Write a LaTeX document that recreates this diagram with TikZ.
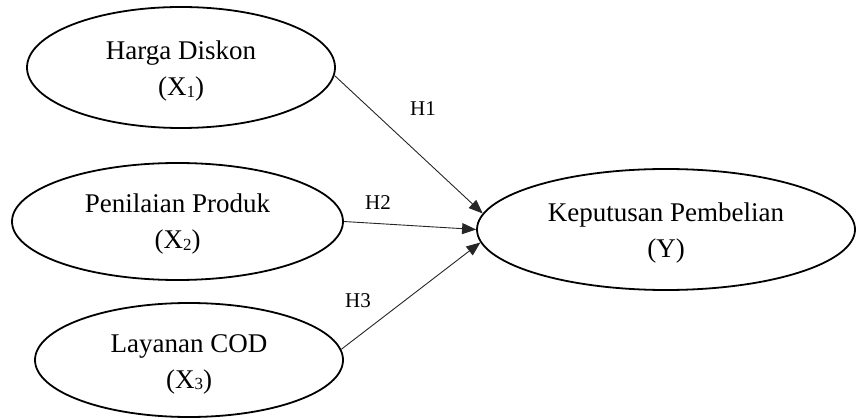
\documentclass[tikz,border=0pt]{standalone}
\usepackage{fontspec}
\setmainfont{Liberation Serif}
\usetikzlibrary{shapes.geometric,arrows.meta}
\newcommand{\varsub}[1]{\raisebox{-0.15ex}{\fontsize{17}{17}\selectfont #1}}
\tikzset{
  var/.style={ellipse, draw=black, line width=1.8pt, inner sep=0pt},
  varlabel/.style={align=center, inner sep=0pt, font=\fontsize{27}{36}\selectfont},
  path/.style={draw=black!85, line width=0.9pt,
    -{Triangle[length=14pt,width=11pt]}},
  hyp/.style={font=\fontsize{21}{24}\selectfont}
}
\begin{document}
\begin{tikzpicture}[x=1pt,y=-1pt]
  \useasboundingbox (0,0) rectangle (858,419);
  % exogenous variables
  \node[var, minimum width=308pt, minimum height=121pt] (hd) at (181,67.5) {};
  \node[var, minimum width=331pt, minimum height=117pt] (pp) at (177.5,221.5) {};
  \node[var, minimum width=308pt, minimum height=114pt] (lc) at (189,360) {};
  % endogenous variable
  \node[var, minimum width=378pt, minimum height=121pt] (kp) at (666,229.5) {};
  % variable names
  \node[varlabel] (hdt) at ([yshift=-4pt]hd.center) {Harga Diskon\\(X\varsub{1})};
  \node[varlabel] (ppt) at ([yshift=-3pt]pp.center) {Penilaian Produk\\(X\varsub{2})};
  \node[varlabel] (lct) at ([yshift=-4pt]lc.center) {Layanan COD\\(X\varsub{3})};
  \node[varlabel] (kpt) at ([yshift=-4pt]kp.center) {Keputusan Pembelian\\(Y)};
  % hypothesised paths
  \draw[path] (hd.-3.2) -- (kp.175.9);
  \draw[path] (pp.0) -- (kp.180);
  \draw[path] (lc.4.6) -- (kp.184.9);
  \node[hyp] (h1) at (423,109) {H1};
  \node[hyp] (h2) at (378,203) {H2};
  \node[hyp] (h3) at (358,301) {H3};
\end{tikzpicture}
\end{document}
